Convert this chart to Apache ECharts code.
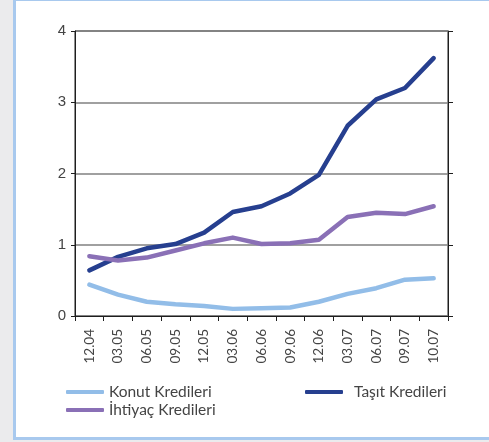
<!DOCTYPE html>
<html>
<head>
<meta charset="utf-8">
<script src="https://cdn.jsdelivr.net/npm/echarts@6/dist/echarts.min.js"></script>
<style>
  html, body { margin: 0; padding: 0; width: 489px; height: 442px; background: #ebebed; overflow: hidden; }
  #panel { position: absolute; left: 13px; top: 0; width: 480px; height: 436px; background: #ffffff;
           border-left: 3px solid #a8c9ee; border-top: 1px solid #a8c9ee; border-bottom: 3px solid #a8c9ee; }
  #chart { position: absolute; left: 0; top: 0; width: 489px; height: 442px; }
</style>
</head>
<body>
<div id="panel"></div>
<div id="chart"></div>
<script>
// Quarter labels (month.year)
const periods = ['12.04', '03.05', '06.05', '09.05', '12.05', '03.06', '06.06', '09.06', '12.06', '03.07', '06.07', '09.07', '10.07'];
const seriesNames = ['Konut Kredileri', 'Taşıt Kredileri', 'İhtiyaç Kredileri'];
const konut   = [0.44, 0.30, 0.20, 0.165, 0.14, 0.10, 0.11, 0.12, 0.20, 0.31, 0.39, 0.51, 0.53];
const tasit   = [0.64, 0.83, 0.95, 1.01, 1.17, 1.46, 1.54, 1.72, 1.98, 2.67, 3.04, 3.20, 3.62];
const ihtiyac = [0.84, 0.78, 0.82, 0.92, 1.02, 1.10, 1.01, 1.02, 1.07, 1.39, 1.45, 1.43, 1.54];
const yTicks  = [0, 1, 2, 3, 4];

const colors = { konut: '#92bde8', tasit: '#263f8f', ihtiyac: '#8a70b6' };
const font = 'Lato';

const chart = echarts.init(document.getElementById('chart'));

function lineSeries(name, data, color) {
  return {
    name: name, type: 'line', data: data, symbol: 'none', smooth: false,
    lineStyle: { color: color, width: 4.5, cap: 'round', join: 'round' },
    itemStyle: { color: color }
  };
}

function legendFor(name, left, top, textGap) {
  return {
    data: [name], left: left, top: top, orient: 'horizontal',
    icon: 'roundRect', itemWidth: 38, itemHeight: 4, itemGap: 8,
    textStyle: { fontFamily: font, fontSize: 15.5, color: '#444', padding: [0, 0, 0, textGap] }
  };
}

chart.setOption({
  animation: false,
  backgroundColor: 'transparent',
  grid: { left: 75, right: 41, top: 31, bottom: 126, show: true, borderColor: '#1e1e1e', borderWidth: 1 },
  legend: [
    legendFor(seriesNames[0], 61, 379, 0),
    legendFor(seriesNames[1], 300, 379, 6),
    legendFor(seriesNames[2], 61, 397, 0)
  ],
  xAxis: {
    type: 'category', data: periods, boundaryGap: true,
    axisLine: { lineStyle: { color: '#1e1e1e', width: 1 } },
    axisTick: { show: true, length: 5, lineStyle: { color: '#1e1e1e' } },
    axisLabel: { rotate: 90, margin: 13, fontFamily: font, fontSize: 13.5, color: '#444' },
    splitLine: { show: false }
  },
  yAxis: [
    {
      type: 'value', min: yTicks[0], max: yTicks[yTicks.length - 1], interval: 1,
      axisLine: { show: true, lineStyle: { color: '#1e1e1e' } },
      axisTick: { show: true, length: 4, lineStyle: { color: '#1e1e1e' } },
      axisLabel: { margin: 9, fontFamily: 'Liberation Sans', fontSize: 15, color: '#444' },
      splitLine: { show: true, lineStyle: { color: '#808080', width: 1.5 } }
    },
    {
      type: 'value', position: 'right', min: yTicks[0], max: yTicks[yTicks.length - 1], interval: 1,
      axisLine: { show: true, lineStyle: { color: '#1e1e1e' } },
      axisTick: { show: true, length: 5, lineStyle: { color: '#1e1e1e' } },
      axisLabel: { show: false },
      splitLine: { show: false }
    }
  ],
  series: [
    lineSeries(seriesNames[0], konut, colors.konut),
    lineSeries(seriesNames[1], tasit, colors.tasit),
    lineSeries(seriesNames[2], ihtiyac, colors.ihtiyac)
  ]
});
</script>
</body>
</html>
